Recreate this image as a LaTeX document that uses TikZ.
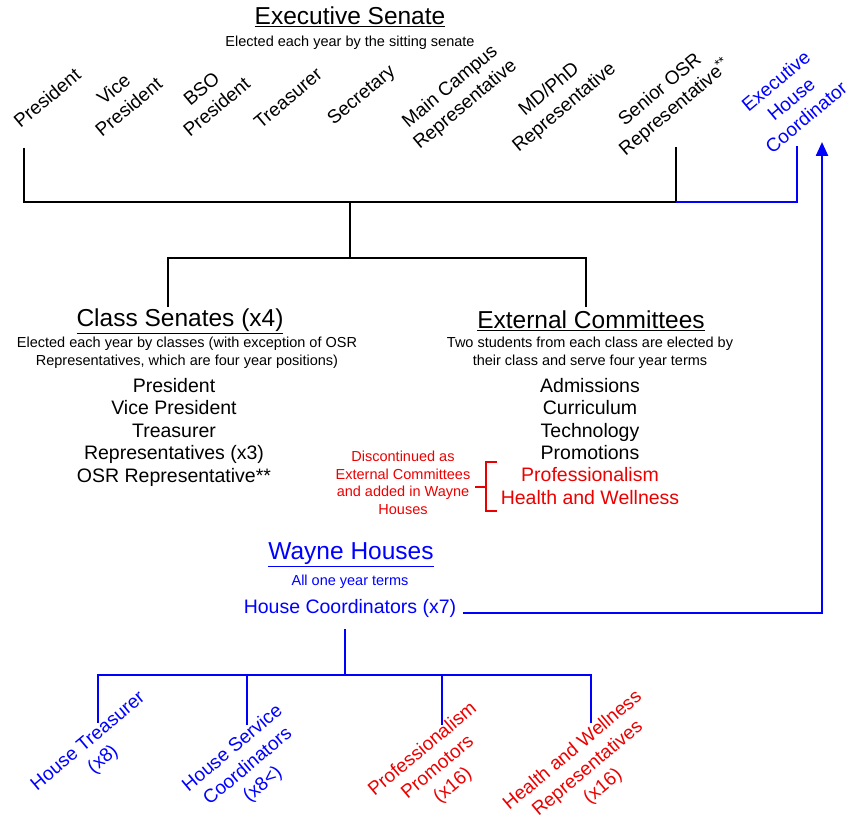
\documentclass[tikz,border=0pt]{standalone}
\usepackage{fontspec}
\setmainfont{Liberation Sans}
\usetikzlibrary{arrows.meta, positioning, calc}
\definecolor{whBlue}{RGB}{0,0,255}
\definecolor{whRed}{RGB}{235,0,0}

\begin{document}
\begin{tikzpicture}[
    x=1pt, y=-1pt,
    title/.style={font=\fontsize{24.5}{28}\selectfont, inner sep=0pt},
    sub/.style={font=\fontsize{14.5}{18}\selectfont, align=center, inner sep=0pt},
    item/.style={font=\fontsize{19.5}{22.5}\selectfont, align=center, inner sep=0pt},
    post/.style={font=\fontsize{19}{23.5}\selectfont, align=center, rotate=40, inner sep=0pt},
    tree/.style={line width=2pt},
    htree/.style={line width=2.4pt, draw=whBlue},
    bracket/.style={line width=2pt, draw=whRed}
]
\useasboundingbox (0,0) rectangle (849,821);

% executive senate
\node[title] (exec) at (350,17) {\underline{Executive Senate}};
\node[sub] (execsub) at (350,43) {Elected each year by the sitting senate};
\foreach \nm/\xc/\yc/\txt in {pres/47/98/President, vice/121/98/{Vice\\President},
                              bso/209/98/{BSO\\President}, treas/288/98/Treasurer,
                              secr/362/96/Secretary, main/458/96/{Main Campus\\Representative},
                              mdphd/557/99/{MD/PhD\\Representative},
                              osr/668/99/{Senior OSR\\Representative\textsuperscript{**}}} {
   \node[post] (\nm) at (\xc,\yc) {\txt};
}
\node[post, text=whBlue] (ehc) at (791,99) {Executive\\House\\Coordinator};

\coordinate (presfoot) at (24,148);
\coordinate (osrfoot) at (676,147);
\coordinate (ehcfoot) at (797,146);
\coordinate (execbar) at (350,202);
\coordinate (midbar) at (350,258);
\coordinate (csfoot) at (168,307);
\coordinate (ecfoot) at (586,307);
\draw[tree] (presfoot) |- (execbar) -| (osrfoot);
\draw[htree] (osrfoot |- execbar) -| (ehcfoot);
\draw[tree] (execbar) -- (midbar);
\draw[tree] (csfoot) |- (midbar) -| (ecfoot);

% class senates
\node[title] (cs) at (180,321) {\underline{Class Senates (x4)}};
\node[sub] (cssub) at (187,353) {Elected each year by classes (with exception of OSR\\
                                 Representatives, which are four year positions)};
\node[item] (csitems) at (174,432) {President\\Vice President\\Treasurer\\
                                    Representatives (x3)\\OSR Representative**};

% external committees
\node[title] (ec) at (591,321) {\underline{External Committees}};
\node[sub] (ecsub) at (590,353) {Two students from each class are elected by\\
                                 their class and serve four year terms};
\node[item] (ecitems) at (590,419) {Admissions\\Curriculum\\Technology\\Promotions};
\node[item, text=whRed] (ecred) at (590,486) {Professionalism\\Health and Wellness};
\node[sub, text=whRed, font=\fontsize{14.5}{17.5}\selectfont] (note) at (403,483)
     {Discontinued as\\External Committees\\and added in Wayne\\Houses};
\coordinate (brtop) at (497,462);
\coordinate (brbot) at (497,511);
\coordinate (brmid) at (475,487);
\draw[bracket] (brtop) -- (486,462) -- (486,511) -- (brbot);
\draw[bracket] (brmid) -- (brmid -| 486,0);

% wayne houses
\node[title, text=whBlue] (wh) at (351,555) {\underline{Wayne Houses}};
\node[sub, text=whBlue] (whsub) at (350,582) {All one year terms};
\node[item, text=whBlue] (hc) at (350,608) {House Coordinators (x7)};
\coordinate (hcout) at (463,613);
\coordinate (ehcarrow) at (822,142);
\draw[htree, -{Triangle[length=14pt, width=12pt]}] (hcout) -| (ehcarrow);

\coordinate (hcfoot) at (345,629);
\coordinate (hbar) at (345,675);
\coordinate (htfoot) at (98,723);
\coordinate (hsfoot) at (247,725);
\coordinate (ppfoot) at (442,725);
\coordinate (hwfoot) at (591,723);
\draw[htree] (hcfoot) -- (hbar);
\draw[htree] (htfoot) |- (hbar) -| (hwfoot);
\draw[htree] (hsfoot) -- (hsfoot |- hbar);
\draw[htree] (ppfoot) -- (ppfoot |- hbar);

\foreach \nm/\xc/\yc/\col/\txt in {ht/96/751/whBlue/{House Treasurer\\(x8)},
                                   hs/248/767/whBlue/{House Service\\Coordinators\\(x8<)},
                                   pp/438/768/whRed/{Professionalism\\Promotors\\(x16)},
                                   hw/588/769/whRed/{Health and Wellness\\Representatives\\(x16)}} {
   \node[post, text=\col] (\nm) at (\xc,\yc) {\txt};
}
\end{tikzpicture}
\end{document}
